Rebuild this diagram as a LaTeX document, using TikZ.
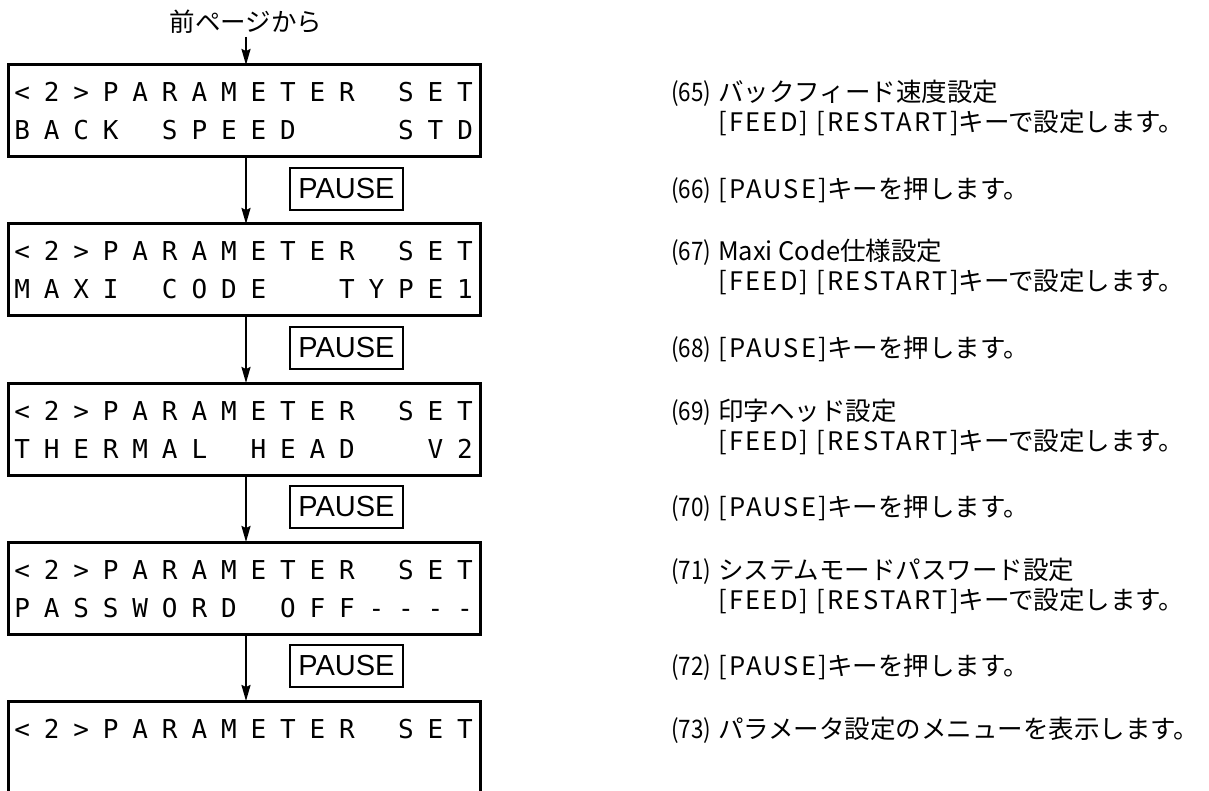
\documentclass[tikz,border=0pt]{standalone}
\usepackage{fontspec}
\usepackage{graphicx}
\newfontfamily\jp{Noto Sans CJK JP}
\newfontfamily\jpsp{Noto Sans CJK JP}[LetterSpace=9]
\newfontfamily\lcdf{DejaVu Sans Mono}
\newfontfamily\keyf{Liberation Sans}
\usetikzlibrary{arrows.meta}
\newlength\lcdpitch
\setlength\lcdpitch{29.53pt}
\def\lcdscan#1{\ifx#1\relax\else\makebox[\lcdpitch][c]{\ifx#1_\else#1\fi}\expandafter\lcdscan\fi}
\newcommand\lcdline[1]{\lcdscan#1\relax}
\newcommand\lab[1]{\makebox[47pt][l]{\scalebox{0.88}[1]{#1}}}
\newcommand\lat[1]{{\jpsp #1}}
\begin{document}
\begin{tikzpicture}[x=1pt,y=-1pt,
  lcdbox/.style={draw, line width=3pt, minimum width=472pt, minimum height=92pt, inner sep=0pt, outer sep=0pt},
  lcdtext/.style={anchor=base west, inner sep=0pt, font=\lcdf\fontsize{26}{26}\selectfont},
  keybox/.style={draw, line width=2pt, minimum width=113pt, minimum height=42pt, inner sep=0pt, font=\keyf\fontsize{29}{29}\selectfont},
  desc/.style={anchor=base west, inner sep=0pt, font=\fontsize{25.5}{25.5}\selectfont\jp},
  flow/.style={line width=2pt, -{Stealth[length=16pt,width=9pt,inset=2pt]}}]
\useasboundingbox (0,0) rectangle (1209,791);

% top label
\node[inner sep=0pt, font=\fontsize{25.5}{25.5}\selectfont\jp] (top) at (246,22) {前ページから};

% LCD boxes
\node[lcdbox] (b1) at (244,111) {};
\node[lcdbox] (b2) at (244,270) {};
\node[lcdbox] (b3) at (244,429) {};
\node[lcdbox] (b4) at (244,588) {};
\node[lcdbox, draw=none] (b5) at (244,747) {};
\draw[line width=3pt] (b5.south west) |- (b5.north east) -- (b5.south east);

% LCD texts
\node[lcdtext] (t1a) at (7.2,102) {\lcdline{<2>PARAMETER_SET}};
\node[lcdtext] (t1b) at (7.2,140) {\lcdline{BACK_SPEED___STD}};
\node[lcdtext] (t2a) at (7.2,261) {\lcdline{<2>PARAMETER_SET}};
\node[lcdtext] (t2b) at (7.2,299) {\lcdline{MAXI_CODE__TYPE1}};
\node[lcdtext] (t3a) at (7.2,420) {\lcdline{<2>PARAMETER_SET}};
\node[lcdtext] (t3b) at (7.2,458) {\lcdline{THERMAL_HEAD__V2}};
\node[lcdtext] (t4a) at (7.2,579) {\lcdline{<2>PARAMETER_SET}};
\node[lcdtext] (t4b) at (7.2,617) {\lcdline{PASSWORD_OFF----}};
\node[lcdtext] (t5a) at (7.2,738) {\lcdline{<2>PARAMETER_SET}};

% PAUSE keys
\node[keybox] (k1) at (346.5,189) {PAUSE};
\node[keybox] (k2) at (346.5,348) {PAUSE};
\node[keybox] (k3) at (346.5,507) {PAUSE};
\node[keybox] (k4) at (346.5,666) {PAUSE};

% arrows
\draw[flow] ([yshift=-3pt]top.south) -- ([xshift=2pt]b1.north);
\draw[flow] ([xshift=2pt]b1.south) -- ([xshift=2pt]b2.north);
\draw[flow] ([xshift=2pt]b2.south) -- ([xshift=2pt]b3.north);
\draw[flow] ([xshift=2pt]b3.south) -- ([xshift=2pt]b4.north);
\draw[flow] ([xshift=2pt]b4.south) -- ([xshift=2pt]b5.north);

% descriptions
\node[desc] (d65a) at (671,102) {\lab{(65)}バックフィード速度設定};
\node[desc] (d65b) at (718,132) {\lat{[FEED] [RESTART]}キーで設定します。};
\node[desc] (d66) at (671,198.5) {\lab{(66)}\lat{[PAUSE]}キーを押します。};
\node[desc] (d67a) at (671,261) {\lab{(67)}Maxi Code仕様設定};
\node[desc] (d67b) at (718,291) {\lat{[FEED] [RESTART]}キーで設定します。};
\node[desc] (d68) at (671,357.5) {\lab{(68)}\lat{[PAUSE]}キーを押します。};
\node[desc] (d69a) at (671,420) {\lab{(69)}印字ヘッド設定};
\node[desc] (d69b) at (718,450) {\lat{[FEED] [RESTART]}キーで設定します。};
\node[desc] (d70) at (671,516.5) {\lab{(70)}\lat{[PAUSE]}キーを押します。};
\node[desc] (d71a) at (671,579) {\lab{(71)}システムモードパスワード設定};
\node[desc] (d71b) at (718,609) {\lat{[FEED] [RESTART]}キーで設定します。};
\node[desc] (d72) at (671,675.5) {\lab{(72)}\lat{[PAUSE]}キーを押します。};
\node[desc] (d73) at (671,738) {\lab{(73)}パラメータ設定のメニューを表示します。};
\end{tikzpicture}
\end{document}
